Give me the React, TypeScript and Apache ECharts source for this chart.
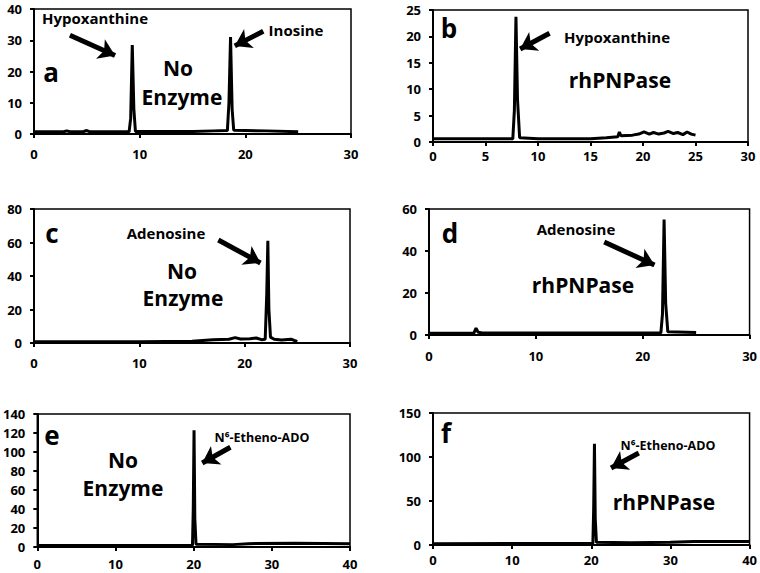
import React, { useEffect, useRef } from "react";
import * as echarts from "echarts";

// ---- data (retention time min, absorbance) ----
const traceA: [number, number][] = [
  [0, 0.7], [2.8, 0.7], [3.1, 1.0], [3.4, 0.7], [4.7, 0.8], [5.0, 1.1], [5.3, 0.7],
  [9.0, 0.7], [9.15, 5], [9.3, 28.5], [9.45, 8], [9.6, 0.8], [15, 0.8], [17, 1.0],
  [18.3, 1.1], [18.45, 10], [18.6, 31], [18.75, 8], [18.9, 1.2], [22, 1.0], [25, 0.7],
];
const traceB: [number, number][] = [
  [0, 0.6], [7.6, 0.6], [7.75, 6], [7.9, 23.7], [8.05, 8], [8.25, 0.8], [10, 0.6],
  [15, 0.6], [16.5, 0.8], [17.6, 1.0], [17.75, 1.9], [17.9, 1.2], [19, 1.3], [19.6, 1.5],
  [20.1, 1.9], [20.6, 1.5], [21.0, 1.8], [21.5, 1.5], [22.0, 1.7], [22.4, 2.0], [22.9, 1.6],
  [23.3, 1.8], [23.8, 1.4], [24.2, 1.9], [24.6, 1.5], [25, 1.3],
];
const traceC: [number, number][] = [
  [0, 0.8], [10, 0.8], [15, 1.0], [17, 2.0], [18.5, 2.2], [19.1, 3.2], [19.6, 2.4],
  [20.5, 2.5], [21.1, 3.0], [21.6, 2.0], [21.95, 2.2], [22.1, 30], [22.2, 61], [22.3, 20],
  [22.45, 3.5], [22.8, 2.2], [23.5, 1.8], [24.4, 2.3], [24.7, 1.5], [25, 1.0],
];
const traceD: [number, number][] = [
  [0, 0.8], [4.2, 0.9], [4.4, 3.3], [4.6, 1.3], [5.0, 1.0], [10, 0.9], [21.7, 1.0],
  [21.85, 10], [22.0, 55], [22.15, 15], [22.35, 1.5], [25, 1.2],
];
const traceE: [number, number][] = [
  [0, 1.5], [19.85, 1.8], [19.95, 40], [20.05, 123], [20.15, 30], [20.3, 3], [25, 2.5],
  [27, 3.5], [33, 4], [40, 3.5],
];
const traceF: [number, number][] = [
  [0, 1.5], [20.2, 1.8], [20.3, 40], [20.4, 115], [20.5, 30], [20.65, 3], [25, 2.5],
  [30, 3], [33, 4], [40, 4],
];

// axis ranges: [xMax, xStep, yMax, yStep]
const axisA = [30, 10, 40, 10];
const axisB = [30, 5, 25, 5];
const axisC = [30, 10, 80, 20];
const axisD = [30, 10, 60, 20];
const axisE = [40, 10, 140, 20];
const axisF = [40, 10, 150, 50];

// arrows in data coordinates: [fromX, fromY, toX, toY]
const arrowsA = [[3.4, 31.6, 7.67, 25.1], [21.7, 32.9, 19.0, 28.2]];
const arrowsB = [[11.1, 20.6, 8.3, 17.6]];
const arrowsC = [[17.5, 61.5, 21.5, 47.8]];
const arrowsD = [[16.4, 44.3, 21.1, 33.3]];
const arrowsE = [[24.7, 105, 21.1, 88.4]];
const arrowsF = [[26.0, 104.5, 22.5, 87.5]];

const FONT = '"Open Sans", "Liberation Sans", sans-serif';

const panels = [
  { data: traceA, axis: axisA, arrows: arrowsA, grid: { left: 34, top: 9, width: 317, height: 125 }, xm: 13 },
  { data: traceB, axis: axisB, arrows: arrowsB, grid: { left: 433, top: 10, width: 315, height: 132 }, xm: 7 },
  { data: traceC, axis: axisC, arrows: arrowsC, grid: { left: 34, top: 209, width: 316, height: 134 }, xm: 13 },
  { data: traceD, axis: axisD, arrows: arrowsD, grid: { left: 429, top: 209, width: 321, height: 126 }, xm: 14 },
  { data: traceE, axis: axisE, arrows: arrowsE, grid: { left: 36, top: 414, width: 314, height: 133 }, xm: 10 },
  { data: traceF, axis: axisF, arrows: arrowsF, grid: { left: 433, top: 413, width: 318, height: 132 }, xm: 8 },
];

function txt(text: string, x: number, y: number, size: number, align = "center") {
  return {
    type: "text",
    z: 100,
    style: {
      text,
      x,
      y,
      font: `bold ${size}px ${FONT}`,
      fill: "#000",
      textAlign: align,
      align,
      textVerticalAlign: "middle",
      verticalAlign: "middle",
    },
  };
}

export default function App() {
  const ref = useRef<HTMLDivElement>(null);
  useEffect(() => {
    if (!ref.current) return;
    const chart = echarts.init(ref.current, undefined, { renderer: "svg" });
    const axisLabel = { color: "#000", fontWeight: "bold", fontSize: 13, fontFamily: FONT };
    const option: any = {
      animation: false,
      backgroundColor: "#fff",
      grid: panels.map((p) => ({ ...p.grid, show: true, borderColor: "#000", borderWidth: 1.5, containLabel: false })),
      xAxis: panels.map((p, i) => ({
        type: "value",
        gridIndex: i,
        min: 0,
        max: p.axis[0],
        interval: p.axis[1],
        axisLine: { show: true, onZero: false, lineStyle: { color: "#000", width: 2 } },
        axisTick: { show: true, length: 4, lineStyle: { color: "#000", width: 2 } },
        splitLine: { show: false },
        axisLabel: { ...axisLabel, margin: p.xm },
      })),
      yAxis: panels.map((p, i) => ({
        type: "value",
        gridIndex: i,
        min: 0,
        max: p.axis[2],
        interval: p.axis[3],
        axisLine: { show: true, onZero: false, lineStyle: { color: "#000", width: 2 } },
        axisTick: { show: true, length: 4, lineStyle: { color: "#000", width: 2 } },
        splitLine: { show: false },
        axisLabel: { ...axisLabel, margin: 12 },
      })),
      series: panels.map((p, i) => ({
        type: "line",
        xAxisIndex: i,
        yAxisIndex: i,
        data: p.data,
        showSymbol: false,
        symbol: "none",
        lineStyle: { color: "#000", width: 3 },
        z: 5,
        markLine: {
          silent: true,
          symbol: ["none", "arrow"],
          symbolSize: 16,
          label: { show: false },
          lineStyle: { color: "#000", width: 5, type: "solid" },
          data: p.arrows.map((a) => [{ coord: [a[0], a[1]] }, { coord: [a[2], a[3]] }]),
        },
      })),
      graphic: [
        txt("Hypoxanthine", 95, 18, 15),
        txt("a", 51, 72, 26),
        txt("No", 178, 68, 21),
        txt("Enzyme", 182, 97, 21),
        txt("Inosine", 296, 30, 15),
        txt("b", 449, 28, 26),
        txt("Hypoxanthine", 617, 37, 15),
        txt("rhPNPase", 620, 80, 21),
        txt("c", 52, 233, 26),
        txt("Adenosine", 166, 233, 15),
        txt("No", 182, 271, 21),
        txt("Enzyme", 183, 298, 21),
        txt("d", 450, 233, 26),
        txt("Adenosine", 576, 229, 15),
        txt("rhPNPase", 583, 285, 21),
        txt("e", 52, 435, 26),
        txt("No", 123, 460, 21),
        txt("Enzyme", 123, 488, 21),
        txt("N⁶-Etheno-ADO", 262, 437, 12.5),
        txt("f", 446, 433, 26),
        txt("N⁶-Etheno-ADO", 668, 445, 12.5),
        txt("rhPNPase", 664, 502, 21),
      ],
    };
    chart.setOption(option);
    return () => chart.dispose();
  }, []);
  return (
    <div
      ref={ref}
      style={{ position: "fixed", left: 0, top: 0, width: 760, height: 573, background: "#fff" }}
    />
  );
}
